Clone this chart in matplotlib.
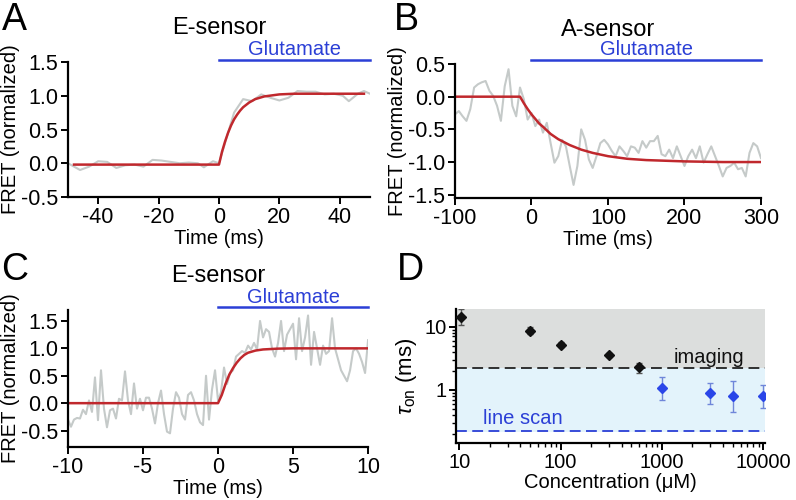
"""
Four-panel FRET kinetics figure: E-sensor / A-sensor step responses to
glutamate (A-C) and tau_on vs. glutamate concentration (D).
Saves out.png (796x500).
"""

import matplotlib.pyplot as plt
from matplotlib.ticker import LogLocator, NullFormatter, FixedLocator

plt.rcParams["font.family"] = ["Liberation Sans", "DejaVu Sans"]
plt.rcParams["axes.unicode_minus"] = False
plt.rcParams["mathtext.fontset"] = "custom"
plt.rcParams["mathtext.rm"] = "Liberation Sans"
plt.rcParams["mathtext.it"] = "Liberation Sans:italic"

RED = "#c0282d"
TRACE_GRAY = "#c5cac9"
BLUE = "#2b3fd6"

# ---- Panel A: E-sensor, slow timescale ----
a_t = [-50, -46, -43, -40, -37, -34, -31, -28, -25, -22, -19, -16, -13, -10, -7,
       -5, -2, 0, 2, 5, 8, 11, 14, 17, 20, 23, 26, 29, 32, 35, 38, 41, 43, 46, 48, 50]
a_fret = [0.0, -0.10, -0.05, 0.03, 0.02, -0.07, -0.03, -0.02, -0.05, 0.05, 0.04, 0.02,
          0.0, 0.01, 0.0, -0.06, 0.03, 0.0, 0.30, 0.75, 0.95, 0.92, 1.02, 0.97, 0.93,
          0.97, 1.07, 1.06, 1.06, 1.02, 1.03, 1.00, 0.92, 1.03, 1.07, 1.03]
a_fit_t = [-48, 0, 1, 2, 3, 4, 5, 6, 7, 8, 10, 12, 15, 20, 25, 30, 48]
a_fit = [-0.02, -0.02, 0.17, 0.32, 0.45, 0.56, 0.65, 0.72, 0.78, 0.83, 0.90, 0.95,
         0.99, 1.02, 1.03, 1.03, 1.03]

# ---- Panel B: A-sensor ----
b_t = list(range(-100, 301, 5))
b_fret = [-0.27, -0.22, -0.30, -0.37, -0.19, 0.14, 0.19, 0.22, 0.24, 0.09, 0.01, -0.14,
          -0.37, 0.16, 0.42, -0.14, -0.30, 0.14, -0.04, -0.35, -0.25, -0.45, -0.35, -0.55,
          -0.40, -0.71, -1.01, -0.91, -0.66, -0.76, -1.06, -1.35, -1.06, -0.50, -0.66,
          -0.96, -1.09, -0.91, -0.71, -0.66, -0.73, -0.83, -0.91, -0.76, -0.83, -0.91,
          -0.76, -0.78, -0.86, -0.68, -0.78, -0.68, -0.68, -0.60, -0.88, -0.91, -0.81,
          -0.94, -0.76, -0.91, -1.06, -0.91, -0.81, -0.94, -0.76, -1.01, -0.88, -0.76,
          -0.91, -1.06, -1.22, -1.09, -1.06, -1.01, -1.11, -1.09, -1.22, -0.86, -0.71,
          -0.76, -0.94]
b_fit_t = [-100, -15, -10, -5, 0, 5, 10, 15, 25, 35, 50, 65, 80, 100, 125, 150, 175,
           200, 250, 300]
b_fit = [0.0, 0.0, -0.10, -0.19, -0.27, -0.34, -0.41, -0.46, -0.57, -0.65, -0.74, -0.81,
         -0.86, -0.91, -0.95, -0.97, -0.98, -0.99, -1.0, -1.0]

# ---- Panel C: E-sensor, fast timescale (0.2 ms sampling) ----
c_t = [round(-10 + 0.2 * i, 1) for i in range(101)]
c_fret = [-0.30, -0.43, -0.30, -0.27, -0.28, -0.12, -0.20, 0.05, -0.16, 0.47,
          -0.31, 0.60, -0.10, -0.44, -0.13, -0.10, -0.28, 0.08, 0.05, 0.58,
          0.05, -0.20, 0.36, -0.10, 0.08, -0.13, 0.10, 0.10, -0.10, -0.37,
          0.00, 0.23, -0.20, -0.52, -0.55, -0.10, 0.20, 0.10, -0.20, -0.30,
          0.15, 0.20, 0.05, -0.20, -0.35, -0.40, 0.50, -0.30, 0.25, 0.60,
          0.05, 0.20, 0.65, 0.35, 0.55, 0.60, 0.85, 0.90, 0.95, 0.92,
          1.05, 0.98, 1.10, 0.98, 1.50, 1.20, 1.35, 1.30, 1.00, 0.85,
          1.10, 1.50, 0.95, 1.25, 1.35, 1.45, 0.80, 1.55, 0.95, 1.20,
          1.60, 0.70, 1.30, 1.00, 0.70, 1.05, 0.90, 0.95, 1.55, 1.00,
          0.80, 0.60, 0.50, 0.40, 0.60, 0.95, 1.00, 0.90, 0.75, 0.55, 1.15]
c_fit_t = [-10, 0, 0.25, 0.5, 0.75, 1.0, 1.25, 1.5, 1.75, 2.0, 2.5, 3.0, 4.0, 5.0, 10]
c_fit = [0.0, 0.0, 0.15, 0.35, 0.52, 0.64, 0.74, 0.82, 0.88, 0.92, 0.96, 0.98, 0.995,
         1.0, 1.0]

# ---- Panel D: tau_on vs concentration ----
d_conc_img = [10.5, 50, 100, 300, 600]
d_tau_img = [14.4, 8.6, 5.2, 3.6, 2.28]
d_err_img_lo = [3.8, 1.0, 0.45, 0.25, 0.40]
d_err_img_hi = [4.4, 1.2, 0.45, 0.25, 0.42]
d_conc_ls = [1000, 3000, 5000, 10000]
d_tau_ls = [1.09, 0.885, 0.80, 0.79]
d_err_ls_lo = [0.40, 0.29, 0.35, 0.28]
d_err_ls_hi = [0.50, 0.41, 0.59, 0.40]
imaging_limit = 2.2
linescan_limit = 0.227

TICK_FS = 15.5
LABEL_FS = 14.5


def style_axes(ax, labelsize=TICK_FS):
    for side in ("top", "right"):
        ax.spines[side].set_visible(False)
    for side in ("left", "bottom"):
        ax.spines[side].set_linewidth(1.6)
    ax.tick_params(direction="out", length=5, width=1.4, labelsize=labelsize, pad=2)


def glutamate_bar(ax, x0, x1, y, text_y):
    # bar + label sit above the axes, so they must not be clipped
    ax.plot([x0, x1], [y, y], color=BLUE, lw=1.8, clip_on=False)
    ax.text((x0 + x1) / 2, text_y, "Glutamate", color=BLUE, fontsize=LABEL_FS,
            ha="center", va="baseline", clip_on=False)


def trace_panel(ax, t, fret, fit_t, fit, title):
    ax.plot(t, fret, color=TRACE_GRAY, lw=1.5)
    ax.plot(fit_t, fit, color=RED, lw=1.8)
    style_axes(ax)
    ax.set_xlabel("Time (ms)", fontsize=LABEL_FS, labelpad=1)
    ax.set_ylabel("FRET (normalized)", fontsize=LABEL_FS, labelpad=1)
    ax.set_title(title, fontsize=17, pad=20)


def main():
    fig = plt.figure(figsize=(7.96, 5.0), dpi=100)

    ax_a = fig.add_axes([0.0854, 0.606, 0.3794, 0.270])
    trace_panel(ax_a, a_t, a_fret, a_fit_t, a_fit, "E-sensor")
    ax_a.set_xlim(-50, 50)
    ax_a.set_ylim(-0.5, 1.5)
    ax_a.set_xticks([-40, -20, 0, 20, 40])
    ax_a.set_yticks([-0.5, 0.0, 0.5, 1.0, 1.5])
    ax_a.set_yticklabels(["-0.5", "0.0", "0.5", "1.0", "1.5"])
    glutamate_bar(ax_a, 0, 50, 1.53, 1.60)

    ax_b = fig.add_axes([0.5716, 0.604, 0.3844, 0.268])
    trace_panel(ax_b, b_t, b_fret, b_fit_t, b_fit, "A-sensor")
    ax_b.set_xlim(-100, 300)
    ax_b.set_ylim(-1.55, 0.5)
    ax_b.set_xticks([-100, 0, 100, 200, 300])
    ax_b.set_yticks([-1.5, -1.0, -0.5, 0.0, 0.5])
    ax_b.set_yticklabels(["-1.5", "-1.0", "-0.5", "0.0", "0.5"])
    glutamate_bar(ax_b, 0, 300, 0.56, 0.635)

    ax_c = fig.add_axes([0.0854, 0.106, 0.3770, 0.274])
    trace_panel(ax_c, c_t, c_fret, c_fit_t, c_fit, "E-sensor")
    ax_c.set_xlim(-10, 10)
    ax_c.set_ylim(-0.8, 1.7)
    ax_c.set_xticks([-10, -5, 0, 5, 10])
    ax_c.set_yticks([-0.5, 0.0, 0.5, 1.0, 1.5])
    ax_c.set_yticklabels(["-0.5", "0.0", "0.5", "1.0", "1.5"])
    glutamate_bar(ax_c, 0, 10, 1.76, 1.83)

    ax_d = fig.add_axes([0.5729, 0.114, 0.3880, 0.268])
    ax_d.set_xscale("log")
    ax_d.set_yscale("log")
    ax_d.set_xlim(9.3, 10400)
    ax_d.set_ylim(0.145, 19)
    ax_d.axhspan(imaging_limit, 19, color="#dcdedd", lw=0, zorder=0)
    ax_d.axhspan(0.22, imaging_limit, color="#e3f3fb", lw=0, zorder=0)
    ax_d.axhline(imaging_limit, color="#222222", lw=1.3, ls=(0, (6, 3)), zorder=1)
    ax_d.axhline(linescan_limit, color=BLUE, lw=1.3, ls=(0, (6, 3)), zorder=1)
    ax_d.errorbar(d_conc_img, d_tau_img, yerr=[d_err_img_lo, d_err_img_hi], fmt="D",
                  color="#111111", ecolor="#555555", ms=5, elinewidth=1, capsize=2.5,
                  zorder=3)
    ax_d.errorbar(d_conc_ls, d_tau_ls, yerr=[d_err_ls_lo, d_err_ls_hi], fmt="D",
                  color="#2a46e8", ecolor="#6f86d9", ms=5, elinewidth=1, capsize=2.5,
                  zorder=3)
    ax_d.text(1300, 2.3, "imaging", fontsize=LABEL_FS, color="#111111",
              ha="left", va="bottom")
    ax_d.text(17, 0.35, "line scan", fontsize=LABEL_FS, color=BLUE,
              ha="left", va="center")
    style_axes(ax_d, labelsize=14.5)
    ax_d.xaxis.set_major_locator(FixedLocator([10, 100, 1000, 10000]))
    ax_d.set_xticklabels(["10", "100", "1000", "10000"])
    ax_d.xaxis.set_minor_locator(LogLocator(base=10, subs=range(2, 10)))
    ax_d.xaxis.set_minor_formatter(NullFormatter())
    ax_d.yaxis.set_major_locator(FixedLocator([1, 10]))
    ax_d.set_yticklabels(["1", "10"])
    ax_d.yaxis.set_minor_locator(LogLocator(base=10, subs=range(2, 10)))
    ax_d.yaxis.set_minor_formatter(NullFormatter())
    ax_d.tick_params(which="minor", direction="out", length=3, width=1.0)
    ax_d.set_xlabel("Concentration (\u03bcM)", fontsize=LABEL_FS, labelpad=1)
    ax_d.set_ylabel(r"$\tau_{\rm on}$ (ms)", fontsize=16, labelpad=4)

    for label, x, y in (("A", 0.002, 0.995), ("B", 0.495, 0.995),
                        ("C", 0.002, 0.497), ("D", 0.499, 0.497)):
        fig.text(x, y, label, fontsize=27, ha="left", va="top")

    fig.savefig("out.png", dpi=100)
    plt.close(fig)


if __name__ == "__main__":
    main()
